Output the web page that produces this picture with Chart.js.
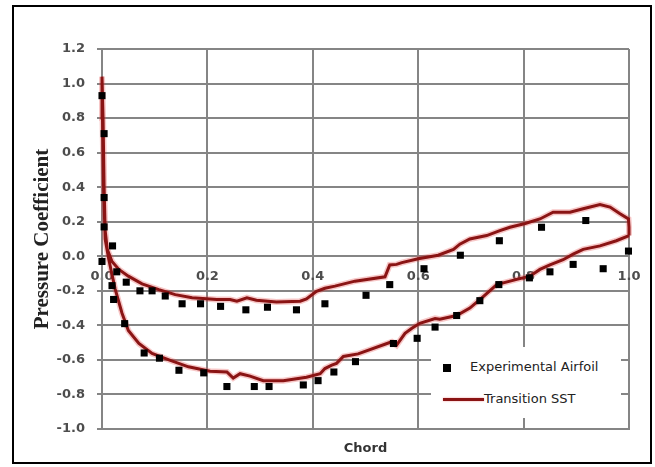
<!DOCTYPE html>
<html>
<head>
<meta charset="utf-8">
<script src="https://cdn.jsdelivr.net/npm/chart.js@4.4.0/dist/chart.umd.min.js"></script>
<style>
  body { margin: 0; background: #fff; }
  #wrap { position: relative; width: 655px; height: 467px; }
  #frame { position: absolute; left: 12px; top: 5px; width: 636px; height: 455px; border: 2px solid #000; pointer-events: none; }
  #legend { position: absolute; left: 431px; top: 347px; width: 190px; height: 71px; background: #fff;
            font-family: "DejaVu Sans"; font-size: 13px; color: #222; }
  #legend .txt { position: absolute; white-space: nowrap; line-height: 18px; height: 18px; }
</style>
</head>
<body>
<div id="wrap">
  <canvas id="myChart" width="655" height="467"></canvas>
  <div id="legend"></div>
  <div id="frame"></div>
</div>
<script>
// experimental points (upper surface then lower surface)
var expX = [0.0, 0.004, 0.004, 0.004, 0.0, 0.02, 0.028, 0.046, 0.072, 0.095, 0.12, 0.152, 0.187, 0.225, 0.273, 0.314, 0.369, 0.423, 0.501, 0.546, 0.611, 0.68, 0.754, 0.834, 0.918,
            0.019, 0.022, 0.043, 0.08, 0.109, 0.146, 0.193, 0.237, 0.289, 0.317, 0.382, 0.41, 0.44, 0.481, 0.553, 0.598, 0.632, 0.673, 0.717, 0.753, 0.811, 0.85, 0.894, 0.951, 0.999];
var expY = [0.93, 0.71, 0.34, 0.17, -0.03, 0.06, -0.09, -0.15, -0.20, -0.20, -0.23, -0.275, -0.275, -0.29, -0.31, -0.295, -0.31, -0.275, -0.226, -0.164, -0.072, 0.006, 0.09, 0.168, 0.207,
            -0.17, -0.25, -0.39, -0.56, -0.59, -0.66, -0.675, -0.754, -0.754, -0.754, -0.745, -0.72, -0.67, -0.61, -0.505, -0.475, -0.41, -0.343, -0.257, -0.164, -0.125, -0.09, -0.047, -0.072, 0.03];

// Transition SST curve, traced as one loop (trailing edge -> lower -> nose -> upper -> trailing edge)
var sstX = [1.0, 0.976, 0.945, 0.913, 0.894, 0.875, 0.85, 0.831, 0.812, 0.787, 0.749, 0.724, 0.698, 0.673, 0.641, 0.632, 0.603, 0.588, 0.575, 0.559, 0.55, 0.486, 0.458, 0.445, 0.436, 0.423, 0.414, 0.388, 0.344, 0.306, 0.281, 0.262, 0.249, 0.237, 0.205, 0.164, 0.127, 0.095, 0.07, 0.05, 0.038, 0.025, 0.013, 0.006, 0.003, 0.001, 0.0,
            0.002, 0.004, 0.006, 0.01, 0.019, 0.032, 0.05, 0.076, 0.108, 0.139, 0.171, 0.218, 0.243, 0.256, 0.275, 0.293, 0.331, 0.376, 0.388, 0.407, 0.423, 0.442, 0.48, 0.537, 0.546, 0.559, 0.569, 0.6, 0.638, 0.667, 0.679, 0.698, 0.73, 0.755, 0.774, 0.803, 0.831, 0.856, 0.888, 0.913, 0.945, 0.964, 0.983, 0.999, 1.0, 1.0];
var sstY = [0.12, 0.09, 0.06, 0.04, 0.012, -0.02, -0.05, -0.076, -0.115, -0.134, -0.164, -0.232, -0.3, -0.343, -0.365, -0.36, -0.388, -0.417, -0.446, -0.515, -0.495, -0.565, -0.58, -0.62, -0.63, -0.65, -0.68, -0.70, -0.72, -0.72, -0.694, -0.68, -0.705, -0.67, -0.665, -0.64, -0.6, -0.563, -0.505, -0.43, -0.33, -0.19, -0.02, 0.1, 0.4, 0.8, 1.04,
            0.8, 0.4, 0.15, 0.04, -0.03, -0.076, -0.115, -0.16, -0.193, -0.222, -0.24, -0.25, -0.25, -0.26, -0.24, -0.255, -0.265, -0.26, -0.247, -0.203, -0.185, -0.173, -0.144, -0.119, -0.05, -0.047, -0.037, -0.014, 0.006, 0.04, 0.07, 0.1, 0.12, 0.148, 0.168, 0.19, 0.216, 0.255, 0.255, 0.275, 0.3, 0.285, 0.246, 0.216, 0.168, 0.12];

var xMin = 0, xMax = 1, xStep = 0.2;
var yMin = -1, yMax = 1.2, yStep = 0.2;

function toPoints(xs, ys) {
  return xs.map(function(x, i) { return {x: x, y: ys[i]}; });
}

var gridCol = '#858585';
var tickFont = {family: 'DejaVu Sans', size: 13, weight: 'bold'};
var tickCol = '#4d4d4d';

var ctx = document.getElementById('myChart').getContext('2d');
var chart = new Chart(ctx, {
  type: 'scatter',
  data: {
    datasets: [{
      label: 'Experimental Airfoil',
      data: toPoints(expX, expY),
      pointStyle: 'rect',
      pointRadius: 5,
      pointBorderWidth: 0,
      backgroundColor: '#000',
      borderColor: '#000',
      clip: false
    }, {
      label: 'Transition SST',
      data: toPoints(sstX, sstY),
      showLine: true,
      tension: 0,
      pointRadius: 0,
      borderColor: '#8a1414',
      borderWidth: 3,
      clip: false
    }, {
      // soft red halo under the curve
      label: '_halo',
      data: toPoints(sstX, sstY),
      showLine: true,
      tension: 0,
      pointRadius: 0,
      borderColor: 'rgba(230,70,70,0.3)',
      borderWidth: 6,
      clip: false
    }]
  },
  options: {
    responsive: false,
    animation: false,
    layout: { padding: { top: 49, right: 26, left: 0, bottom: 0 } },
    plugins: { legend: { display: false }, tooltip: { enabled: false } },
    scales: {
      x: {
        type: 'linear', min: xMin, max: xMax,
        ticks: { display: false, stepSize: xStep },
        grid: { color: gridCol, lineWidth: 2, drawTicks: false },
        border: { color: gridCol, width: 2 },
        title: { display: true, text: 'Chord', color: '#333',
                 font: {family: 'DejaVu Sans', size: 13, weight: 'bold'}, padding: {top: 0, bottom: 11} },
        afterFit: function(s) { s.height = 38; }
      },
      x2: {
        type: 'linear', min: xMin, max: xMax, position: { y: 0 },
        ticks: { stepSize: xStep, padding: 13, maxRotation: 0, color: tickCol, font: tickFont,
                 callback: function(v) { return v.toFixed(1); } },
        grid: { display: false, drawTicks: false },
        border: { display: false }
      },
      y: {
        type: 'linear', min: yMin, max: yMax,
        ticks: { stepSize: yStep, padding: 12, color: tickCol, font: tickFont,
                 callback: function(v) { return v.toFixed(1); } },
        grid: { color: gridCol, lineWidth: 2, tickLength: 5 },
        border: { color: gridCol, width: 2 },
        title: { display: true, text: 'Pressure Coefficient', color: '#222',
                 font: {family: 'Liberation Serif', size: 21, weight: 'bold'}, padding: {top: 30, bottom: 0} },
        afterFit: function(s) { s.width = 102; }
      }
    }
  }
});

// legend box inside the plot, like the original
var leg = document.getElementById('legend');
var ds = chart.data.datasets;
var m = document.createElement('div');
m.style.cssText = 'position:absolute;left:12px;top:17px;width:8px;height:8px;background:' + ds[0].backgroundColor;
leg.appendChild(m);
var t1 = document.createElement('div');
t1.className = 'txt'; t1.style.left = '39px'; t1.style.top = '11px'; t1.textContent = ds[0].label;
leg.appendChild(t1);
var ln = document.createElement('div');
ln.style.cssText = 'position:absolute;left:12px;top:51px;width:41px;height:3px;background:' + ds[1].borderColor + ';box-shadow:0 0 2px rgba(230,70,70,0.6)';
leg.appendChild(ln);
var t2 = document.createElement('div');
t2.className = 'txt'; t2.style.left = '53px'; t2.style.top = '43px'; t2.textContent = ds[1].label;
leg.appendChild(t2);
</script>
</body>
</html>
